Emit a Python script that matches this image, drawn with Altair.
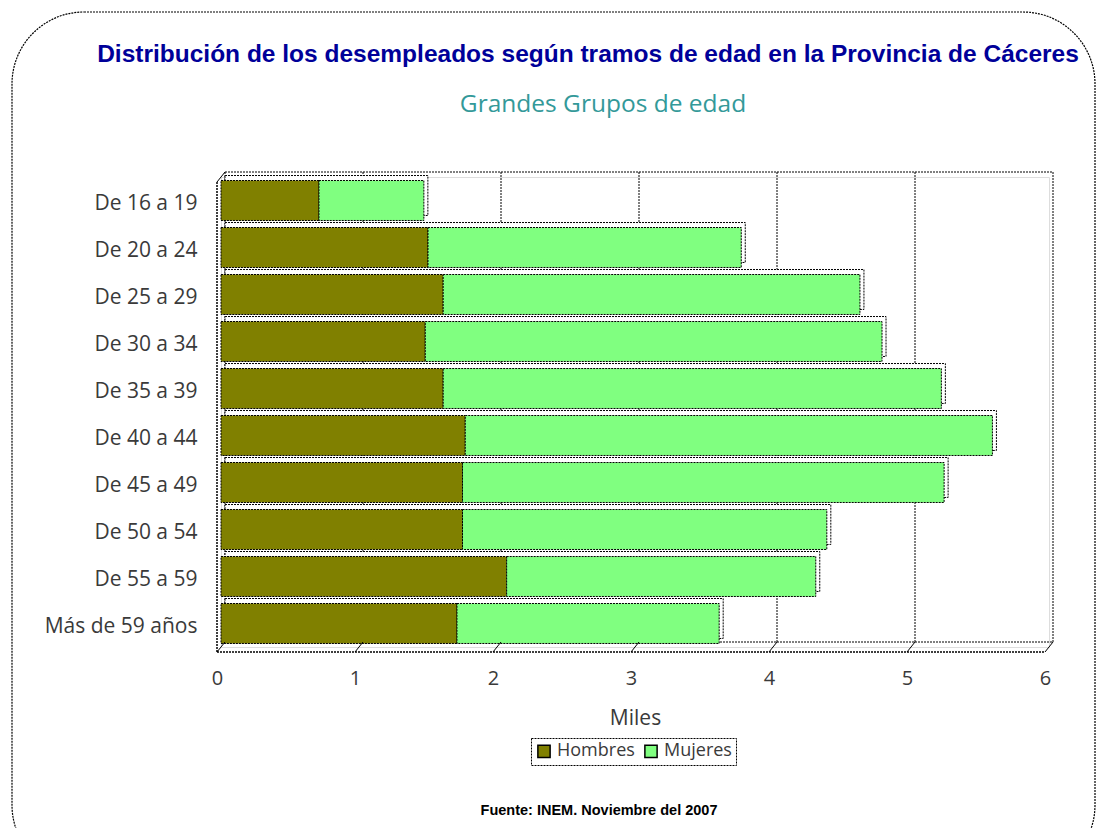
import altair as alt
import pandas as pd

categories = ["De 16 a 19", "De 20 a 24", "De 25 a 29", "De 30 a 34", "De 35 a 39",
              "De 40 a 44", "De 45 a 49", "De 50 a 54", "De 55 a 59", "Más de 59 años"]
hombres = [0.71, 1.50, 1.61, 1.48, 1.61, 1.77, 1.75, 1.75, 2.07, 1.71]
mujeres = [0.76, 2.27, 3.02, 3.31, 3.61, 3.82, 3.49, 2.64, 2.24, 1.90]
series = ["Hombres", "Mujeres"]
colors = ["#808000", "#80FF80"]
x_ticks = [0, 1, 2, 3, 4, 5, 6]

TITLE = "Distribución de los desempleados según tramos de edad en la Provincia de Cáceres"
SUBTITLE = "Grandes Grupos de edad"
SOURCE = "Fuente: INEM. Noviembre del 2007"

rows = []
for c, h, m in zip(categories, hombres, mujeres):
    rows.append({"cat": c, "serie": "Hombres", "val": h, "ord": 0})
    rows.append({"cat": c, "serie": "Mujeres", "val": m, "ord": 1})
df = pd.DataFrame(rows)
tot = pd.DataFrame({"cat": categories, "total": [h + m for h, m in zip(hombres, mujeres)]})
ticks = pd.DataFrame({"k": x_ticks})
one = pd.DataFrame({"a": [0]})

W, H = 828, 470
DASH = [2, 1]
FONT = "Open Sans"
TXT = "#3a3a3a"

xscale = alt.Scale(domain=[0, 6], nice=False, zero=True)
yscale = alt.Scale(paddingInner=0.15, paddingOuter=0.075)

border = alt.Chart(one).mark_rect(
    cornerRadius=72, fillOpacity=0, stroke="black", strokeWidth=1.2, strokeDash=DASH
).encode(x=alt.value(-209), x2=alt.value(874), y=alt.value(-165), y2=alt.value(700))

grid = alt.Chart(ticks).mark_rule(color="black", strokeDash=DASH, xOffset=4).encode(
    x=alt.X("k:Q", scale=xscale,
            axis=alt.Axis(title="Miles", values=x_ticks, format="d", domain=False, ticks=False,
                          grid=False, labelFlush=False,
                          labelFontSize=20, labelColor=TXT, labelFont=FONT, labelOffset=-4,
                          labelPadding=21, titleFont=FONT, titleFontSize=21,
                          titleFontWeight="normal", titleColor=TXT, titlePadding=19)),
    y=alt.value(-5), y2=alt.value(H - 5))

top_line = alt.Chart(one).mark_rule(color="black", strokeDash=DASH, xOffset=4, x2Offset=4).encode(
    x=alt.datum(0), x2=alt.datum(6), y=alt.value(-5))
back_bottom = alt.Chart(one).mark_rule(color="black", strokeDash=DASH, xOffset=4, x2Offset=4).encode(
    x=alt.datum(0), x2=alt.datum(6), y=alt.value(H - 5))
front_bottom = alt.Chart(one).mark_rule(color="black", strokeDash=DASH, strokeWidth=1.5,
                                        xOffset=-4, x2Offset=-4).encode(
    x=alt.datum(0), x2=alt.datum(6), y=alt.value(H + 5))
diag = alt.Chart(ticks).mark_rule(color="black", xOffset=4, x2Offset=-4).encode(
    x="k:Q", x2="k2:Q", y=alt.value(H - 5), y2=alt.value(H + 5)).transform_calculate(k2="datum.k")
front_left = alt.Chart(one).mark_rule(color="black", strokeDash=DASH, strokeWidth=1.5, xOffset=-4).encode(
    x=alt.datum(0), y=alt.value(5), y2=alt.value(H + 5))
top_left = alt.Chart(one).mark_rule(color="black", xOffset=4, x2Offset=-4).encode(
    x=alt.datum(0), x2=alt.datum(0), y=alt.value(-5), y2=alt.value(5))

yenc = alt.Y("cat:N", sort=categories, scale=yscale,
             axis=alt.Axis(title=None, domain=False, ticks=False, labelFontSize=21, labelColor=TXT,
                           labelFont=FONT, labelPadding=24, labelOffset=3, labelLimit=300))

back_faces = alt.Chart(tot).mark_bar(
    fill="white", stroke="black", strokeWidth=1, strokeDash=DASH,
    xOffset=4, x2Offset=4, yOffset=-5, y2Offset=-5
).encode(x=alt.X("total:Q", scale=xscale), y=yenc)

bars = alt.Chart(df).mark_bar(stroke="black", strokeWidth=1, strokeDash=DASH).encode(
    x=alt.X("val:Q", stack="zero", scale=xscale),
    y=yenc,
    color=alt.Color("serie:N", scale=alt.Scale(domain=series, range=colors),
                    legend=alt.Legend(title=None, orient="none", legendX=310, legendY=561,
                                      direction="horizontal", symbolType="square", symbolSize=150,
                                      symbolStrokeColor="black", symbolStrokeWidth=1.5,
                                      labelFontSize=18, labelColor=TXT, labelFont=FONT,
                                      strokeColor="black", padding=4,
                                      columnPadding=6, symbolOffset=0)),
    order=alt.Order("ord:Q"),
    tooltip=["cat", "serie", "val"])

title = alt.Chart(pd.DataFrame({"t": [TITLE]})).mark_text(
    font="Liberation Sans", fontSize=24.5, fontWeight="bold", color="#000099", align="center",
    baseline="middle"
).encode(x=alt.value(367), y=alt.value(-122), text="t:N")
subtitle = alt.Chart(pd.DataFrame({"t": [SUBTITLE]})).mark_text(
    font=FONT, fontSize=24.5, color="#339999", align="center", baseline="middle"
).encode(x=alt.value(382), y=alt.value(-72), text="t:N")
source = alt.Chart(pd.DataFrame({"t": [SOURCE]})).mark_text(
    font="Liberation Sans Narrow, Liberation Sans", fontSize=14.5, fontWeight="bold", color="black",
    align="center", baseline="middle"
).encode(x=alt.value(378), y=alt.value(634), text="t:N")

chart = alt.layer(
    border, grid, top_line, back_bottom, back_faces, bars, diag, front_bottom, front_left, top_left,
    title, subtitle, source
).properties(
    width=W, height=H,
    autosize=alt.AutoSizeParams(type="none"),
    padding={"left": 213, "top": 169, "right": 49, "bottom": 181}
).configure_view(stroke=None).configure(background="white").configure_legend(strokeDash=DASH)

chart.save("out.html", embed_options={"renderer": "svg", "actions": False})
